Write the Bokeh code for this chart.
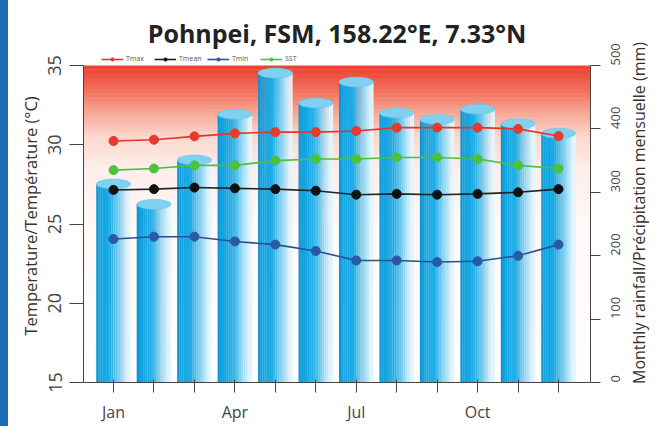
import math
import numpy as np
from bokeh.plotting import figure
from bokeh.layouts import row
from bokeh.models import (Range1d, LinearAxis, FixedTicker, Legend, Div,
                          LegendItem, BoxAnnotation, ColumnDataSource)
from bokeh.embed import file_html
from bokeh.resources import INLINE

# ---------------- data ----------------
months = list(range(1, 13))
month_labels = ["Jan", "", "", "Apr", "", "", "Jul", "", "", "Oct", "", ""]
rainfall = [313, 281, 351, 423, 488, 441, 474, 425, 415, 431, 408, 393]
tmax = [30.24, 30.32, 30.53, 30.72, 30.8, 30.8, 30.87, 31.08, 31.08, 31.08, 31.0, 30.55]
sst = [28.4, 28.5, 28.7, 28.7, 29.0, 29.1, 29.1, 29.2, 29.2, 29.1, 28.7, 28.5]
tmean = [27.15, 27.2, 27.3, 27.25, 27.2, 27.1, 26.85, 26.9, 26.85, 26.9, 27.0, 27.2]
tmin = [24.05, 24.2, 24.2, 23.9, 23.7, 23.3, 22.7, 22.7, 22.6, 22.65, 23.0, 23.7]
temp_ticks = [15, 20, 25, 30, 35]
rain_ticks = [0, 100, 200, 300, 400, 500]
title_text = "Pohnpei, FSM, 158.22\u00b0E, 7.33\u00b0N"
temp_label = "Temperature/Temp\u00e9rature (\u00b0C)"
rain_label = "Monthly rainfall/Pr\u00e9cipitation mensuelle (mm)"

FONT = "Open Sans"
AXC = "#444444"

T0, T1 = 15, 35          # temperature axis extent
R0, R1 = 0, 500          # rainfall axis extent
MM_PER_DEG = (R1 - R0) / (T1 - T0)
head = 1.01              # extra room above the plot for the legend (deg C)
x0, x1 = 0.258, 12.79

p = figure(width=626, height=426, output_backend="svg", toolbar_location=None,
           x_range=Range1d(x0, x1), y_range=Range1d(T0, T1 + head),
           min_border_left=75, min_border_right=44, min_border_top=49,
           min_border_bottom=44)
p.styles = {"border-left": "8px solid #1b6cb4"}
p.extra_y_ranges = {"rain": Range1d(R0, R1 + head * MM_PER_DEG)}
p.outline_line_color = None
p.xgrid.visible = False
p.ygrid.visible = False
p.background_fill_color = "white"
p.border_fill_color = "white"

p.title.text = title_text
p.title.align = "center"
p.title.text_font = FONT
p.title.text_font_style = "bold"
p.title.text_font_size = "25px"
p.title.text_color = "#222222"
p.title.standoff = 0

# ---------- background gradient (decoration) ----------
stops_t = [15, 25, 28.5, 30.5, 32, 33.5, 35]
stops_c = [(255, 255, 255), (255, 249, 247), (254, 238, 233), (252, 215, 205),
           (248, 170, 150), (242, 110, 90), (236, 64, 48)]
edges = np.linspace(T0, T1, 81)
for a, b in zip(edges[:-1], edges[1:]):
    m = (a + b) / 2
    c = [int(np.interp(m, stops_t, [s[i] for s in stops_c])) for i in range(3)]
    p.add_layout(BoxAnnotation(bottom=a, top=min(b + 0.02, T1),
                               fill_color="#%02x%02x%02x" % tuple(c),
                               fill_alpha=1, line_alpha=0, level="underlay"))

# ---------- cylinders (rainfall) ----------
W = 0.85
N = 16
offs = (np.arange(N) + 0.5) / N * W - W / 2
fr = (np.arange(N) + 0.5) / N
cs_f = [0.0, 0.1, 0.4, 0.75, 0.95, 1.0]
cs_c = [(12, 145, 210), (18, 163, 224), (30, 172, 229), (165, 220, 243),
        (238, 249, 253), (218, 239, 249)]
strip_cols = ["#%02x%02x%02x" % tuple(int(np.interp(f, cs_f, [s[i] for s in cs_c]))
                                      for i in range(3)) for f in fr]
bx = (np.repeat(months, N) + np.tile(offs, len(months))).tolist()
btop = np.repeat(rainfall, N).tolist()
bcol = strip_cols * len(months)
p.vbar(x=bx, top=btop, bottom=0, width=W / N * 1.08, fill_color=bcol,
       line_color=None, y_range_name="rain")
p.ellipse(x=months, y=rainfall, width=W, height=10, height_units="screen",
          fill_color="#7fd1f1", line_color="#5ec4ee", line_width=0.5, y_range_name="rain")

# ---------- temperature lines ----------
series = [("Tmax", tmax, "#e5352b", "#e8392d"),
          ("Tmean", tmean, "#222222", "#111111"),
          ("Tmin", tmin, "#2c4f8e", "#2a59a6"),
          ("SST", sst, "#4cbf3f", "#4cc23e")]
items = []
for name, vals, lc, mc in series:
    src = ColumnDataSource(dict(x=months, y=vals))
    r1 = p.line("x", "y", source=src, line_color=lc, line_width=1.6)
    r2 = p.scatter("x", "y", source=src, size=9, fill_color=mc, line_color=mc)
    items.append(LegendItem(label=name, renderers=[r1, r2]))

legend = Legend(items=items, orientation="horizontal", location=(18, 319),
                label_text_font_size="7px", label_text_color="#555555",
                label_text_font=FONT, glyph_width=22, glyph_height=8,
                label_height=8, label_width=28, label_standoff=3, spacing=0,
                padding=0, margin=0,
                background_fill_alpha=0, border_line_color=None)
p.add_layout(legend)

# ---------- axes ----------
def style_axis(ax):
    ax.axis_line_color = AXC
    ax.major_tick_line_color = AXC
    ax.minor_tick_line_color = None
    ax.major_label_text_color = AXC
    ax.major_label_text_font = FONT
    ax.axis_label_text_font = FONT
    ax.axis_label_text_font_style = "normal"
    ax.axis_label_text_color = "#333333"

xa = p.xaxis[0]
style_axis(xa)
xa.ticker = FixedTicker(ticks=months)
xa.major_label_overrides = {m: lab for m, lab in zip(months, month_labels)}
xa.major_tick_in = 3
xa.major_tick_out = 10
xa.major_label_standoff = 8
xa.major_label_text_font_size = "16px"

ya = p.yaxis[0]
style_axis(ya)
ya.bounds = (T0, T1)
ya.ticker = FixedTicker(ticks=temp_ticks)
ya.major_label_orientation = "vertical"
ya.major_tick_in = 0
ya.major_tick_out = 14
ya.major_label_standoff = 8
ya.major_label_text_font_size = "18px"
ya.axis_label = temp_label
ya.axis_label_text_font_size = "16.5px"
ya.axis_label_standoff = 4

ra = LinearAxis(y_range_name="rain")
style_axis(ra)
ra.bounds = (R0, R1)
ra.ticker = FixedTicker(ticks=rain_ticks)
ra.major_label_orientation = math.pi / 2
ra.major_tick_in = 0
ra.major_tick_out = 10
ra.major_label_standoff = 15
ra.major_label_text_font_size = "13px"
p.add_layout(ra, "right")

# right-hand axis title, reading bottom-to-top as in the original
rlab = Div(text=rain_label, width=22, height=426, margin=0,
           styles={"writing-mode": "vertical-lr", "transform": "rotate(180deg)",
                   "text-align": "center", "font-family": FONT, "font-size": "16px",
                   "color": "#333333", "white-space": "nowrap", "line-height": "18px",
                   "background": "white"})

layout = row(p, rlab, spacing=0)
open("out.html", "w").write(file_html(layout, INLINE))
